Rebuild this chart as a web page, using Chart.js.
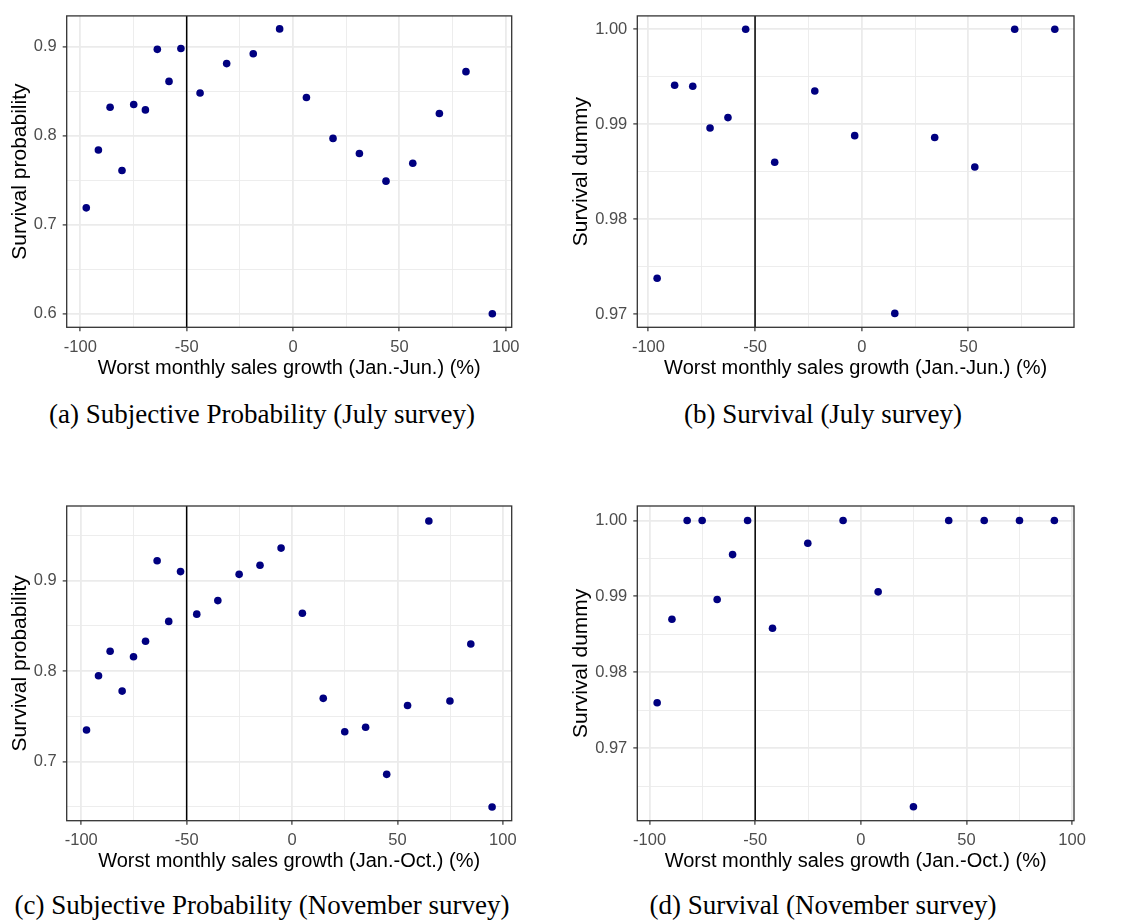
<!DOCTYPE html>
<html>
<head>
<meta charset="utf-8">
<script src="https://cdn.jsdelivr.net/npm/chart.js@4.4.1/dist/chart.umd.min.js"></script>
<style>
  body { margin: 0; background: #fff; width: 1128px; height: 921px; position: relative; overflow: hidden; }
  canvas { position: absolute; }
  .cap { position: absolute; font-family: "Liberation Serif", serif; font-size: 27px; line-height: 27px; color: #000; white-space: nowrap; transform: translateX(-50%); }
</style>
</head>
<body>
<canvas id="pa" width="564" height="380" style="left:0;top:0"></canvas>
<canvas id="pb" width="564" height="380" style="left:564px;top:0"></canvas>
<canvas id="pc" width="564" height="383" style="left:0;top:490px"></canvas>
<canvas id="pd" width="564" height="383" style="left:564px;top:490px"></canvas>
<div class="cap" style="left:262px;top:401px">(a) Subjective Probability (July survey)</div>
<div class="cap" style="left:823px;top:401px">(b) Survival (July survey)</div>
<div class="cap" style="left:262px;top:892px">(c) Subjective Probability (November survey)</div>
<div class="cap" style="left:823px;top:892px">(d) Survival (November survey)</div>
<script>
// binned means: worst monthly sales growth (%) vs. survival
var julyProbX = [-97.2, -91.5, -86.0, -80.4, -74.9, -69.4, -63.8, -58.3, -52.7, -43.7, -31.2, -18.7, -6.3, 6.3, 18.8, 31.2, 43.7, 56.3, 68.8, 81.3, 93.7];
var julyProbY = [0.719, 0.784, 0.832, 0.761, 0.835, 0.829, 0.897, 0.861, 0.898, 0.848, 0.881, 0.892, 0.920, 0.843, 0.797, 0.780, 0.749, 0.769, 0.825, 0.872, 0.600];

var julySurvX = [-95.9, -87.7, -79.2, -71.1, -62.7, -54.4, -40.8, -22.0, -3.3, 15.5, 34.2, 53.0, 71.7, 90.5];
var julySurvY = [0.9738, 0.9941, 0.9940, 0.9896, 0.9907, 1.0, 0.9860, 0.9935, 0.9888, 0.9701, 0.9886, 0.9855, 1.0, 1.0];

var novProbX = [-97.5, -91.8, -86.3, -80.6, -75.2, -69.5, -64.0, -58.5, -52.9, -45.2, -35.2, -25.1, -15.2, -5.2, 4.9, 14.8, 25.0, 34.9, 44.9, 54.8, 64.9, 74.9, 84.8, 94.9];
var novProbY = [0.735, 0.795, 0.822, 0.778, 0.816, 0.833, 0.922, 0.855, 0.910, 0.863, 0.878, 0.907, 0.917, 0.936, 0.864, 0.770, 0.733, 0.738, 0.686, 0.762, 0.966, 0.767, 0.830, 0.650];

var novSurvX = [-96.4, -89.4, -82.2, -75.1, -68.0, -60.7, -53.6, -41.8, -25.1, -8.4, 8.2, 24.9, 41.6, 58.4, 75.1, 91.6];
var novSurvY = [0.9760, 0.9870, 1.0, 1.0, 0.9896, 0.9955, 1.0, 0.9858, 0.9970, 1.0, 0.9906, 0.9623, 1.0, 1.0, 1.0, 1.0];

// threshold line
var cutoff = -50;

// ticks (major are labelled, minor only get a thin grid line)
var xMajor = [-100, -50, 0, 50, 100];
var xMinor = [-75, -25, 25, 75];
var probMajor = [0.6, 0.7, 0.8, 0.9];
var probMinor = [0.65, 0.75, 0.85, 0.95];
var survMajor = [0.97, 0.98, 0.99, 1.00];
var survMinor = [0.965, 0.975, 0.985, 0.995];

var axisFont = "'Liberation Sans', Arial, sans-serif";

function tickList(major, minor, min, max) {
  var t = major.map(function (v) { return { value: v, big: true }; })
    .concat(minor.map(function (v) { return { value: v, big: false }; }));
  t = t.filter(function (d) { return d.value >= min && d.value <= max; });
  t.sort(function (a, b) { return a.value - b.value; });
  return t;
}

var panelBox = {
  id: 'panelBox',
  afterDraw: function (chart) {
    var a = chart.chartArea, ctx = chart.ctx;
    ctx.save();
    ctx.strokeStyle = '#333333';
    ctx.lineWidth = 1.3;
    ctx.strokeRect(a.left, a.top, a.right - a.left, a.bottom - a.top);
    ctx.restore();
  }
};

function gridOpts() {
  return {
    color: '#ebebeb',
    lineWidth: function (c) { return c.tick && c.tick.big ? 1.8 : 0.9; },
    tickLength: 4,
    tickWidth: 1.2,
    tickColor: function (c) { return c.tick && c.tick.big ? '#333333' : 'rgba(0,0,0,0)'; }
  };
}

function makePanel(id, p) {
  var pts = p.xs.map(function (x, i) { return { x: x, y: p.ys[i] }; });
  new Chart(document.getElementById(id), {
    type: 'scatter',
    data: {
      datasets: [
        {
          data: pts,
          backgroundColor: '#000080',
          borderWidth: 0,
          pointRadius: 3.8,
          pointHoverRadius: 3.8
        },
        {
          data: [{ x: cutoff, y: p.ymin }, { x: cutoff, y: p.ymax }],
          showLine: true,
          borderColor: '#000000',
          borderWidth: 1.5,
          pointRadius: 0
        }
      ]
    },
    options: {
      responsive: false,
      animation: false,
      events: [],
      layout: { padding: { left: 0, top: p.top, right: p.right, bottom: 0 } },
      plugins: { legend: { display: false }, tooltip: { enabled: false } },
      scales: {
        x: {
          type: 'linear',
          min: p.xmin,
          max: p.xmax,
          bounds: 'data',
          afterBuildTicks: function (s) { s.ticks = tickList(xMajor, xMinor, p.xmin, p.xmax); },
          afterFit: function (s) { s.height = p.xh; },
          border: { display: false },
          grid: gridOpts(),
          ticks: {
            autoSkip: false,
            maxRotation: 0,
            padding: 6,
            color: '#4d4d4d',
            font: { family: axisFont, size: 16.5 },
            callback: function (v, i, t) { return t[i].big ? String(v) : ''; }
          },
          title: {
            display: true,
            text: p.xTitle,
            color: '#000000',
            font: { family: axisFont, size: 20 },
            padding: { top: 0, bottom: 0 }
          }
        },
        y: {
          type: 'linear',
          min: p.ymin,
          max: p.ymax,
          bounds: 'data',
          afterBuildTicks: function (s) { s.ticks = tickList(p.yMajor, p.yMinor, p.ymin, p.ymax); },
          afterFit: function (s) { s.width = p.yw; },
          border: { display: false },
          grid: gridOpts(),
          ticks: {
            autoSkip: false,
            padding: 6,
            color: '#4d4d4d',
            font: { family: axisFont, size: 16.5 },
            callback: function (v, i, t) { return t[i].big ? v.toFixed(p.digits) : ''; }
          },
          title: {
            display: true,
            text: p.yTitle,
            color: '#000000',
            font: { family: axisFont, size: 21 },
            padding: { top: p.yTitlePad, bottom: 0 }
          }
        }
      }
    },
    plugins: [panelBox]
  });
}

makePanel('pa', {
  xs: julyProbX, ys: julyProbY,
  xmin: -106.4, xmax: 102.8, ymin: 0.5848, ymax: 0.9346,
  yMajor: probMajor, yMinor: probMinor, digits: 1,
  xTitle: 'Worst monthly sales growth (Jan.-Jun.) (%)', yTitle: 'Survival probability',
  top: 14, right: 52.3, yw: 66.7, xh: 52.7, yTitlePad: 7.8
});
makePanel('pb', {
  xs: julySurvX, ys: julySurvY,
  xmin: -105.2, xmax: 99.5, ymin: 0.96864, ymax: 1.0014,
  yMajor: survMajor, yMinor: survMinor, digits: 2,
  xTitle: 'Worst monthly sales growth (Jan.-Jun.) (%)', yTitle: 'Survival dummy',
  top: 14, right: 54, yw: 73.3, xh: 52.7, yTitlePad: 5.1
});
makePanel('pc', {
  xs: novProbX, ys: novProbY,
  xmin: -106.9, xmax: 104.2, ymin: 0.6348, ymax: 0.9825,
  yMajor: probMajor, yMinor: probMinor, digits: 1,
  xTitle: 'Worst monthly sales growth (Jan.-Oct.) (%)', yTitle: 'Survival probability',
  top: 16, right: 52.3, yw: 66.7, xh: 52.3, yTitlePad: 7.8
});
makePanel('pd', {
  xs: novSurvX, ys: novSurvY,
  xmin: -105.8, xmax: 100.9, ymin: 0.96047, ymax: 1.0019,
  yMajor: survMajor, yMinor: survMinor, digits: 2,
  xTitle: 'Worst monthly sales growth (Jan.-Oct.) (%)', yTitle: 'Survival dummy',
  top: 16, right: 54, yw: 73.3, xh: 52.3, yTitlePad: 5.1
});
</script>
</body>
</html>
